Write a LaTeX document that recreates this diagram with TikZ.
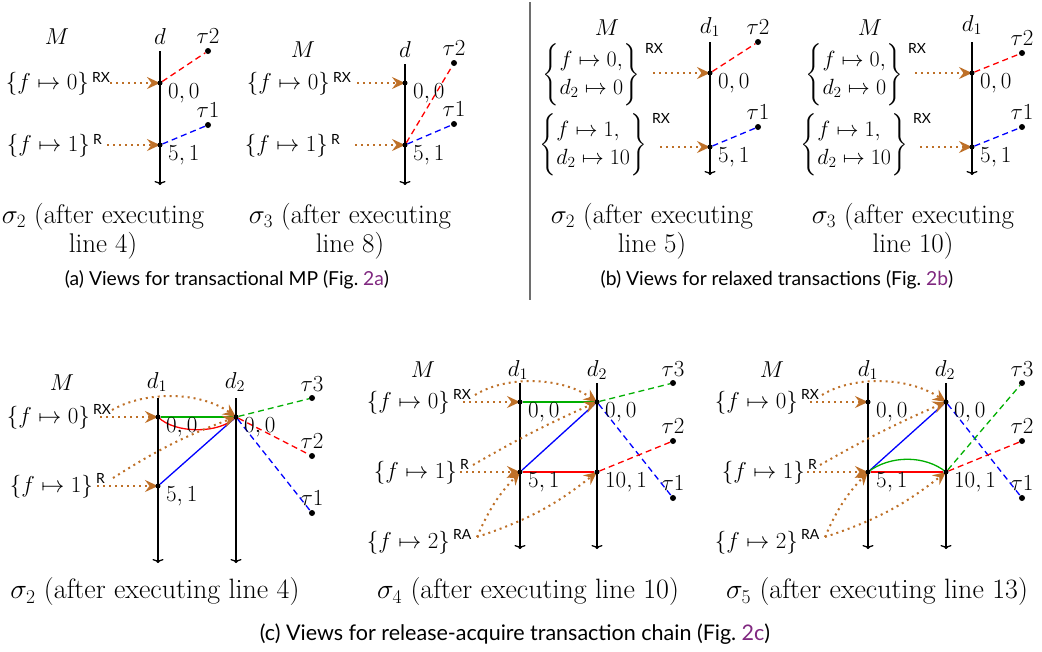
\RequirePackage{fix-cm}
\documentclass[tikz,border=0pt]{standalone}
\usepackage{amsmath}
\usepackage{fontspec}
\setsansfont{Lato}
\usetikzlibrary{arrows.meta,calc}
\pgfdeclarelayer{background}
\pgfsetlayers{background,main}
\definecolor{mybrown}{RGB}{190,112,40}
\definecolor{mygreen}{RGB}{0,175,0}
\definecolor{linkpurple}{RGB}{128,40,128}
\definecolor{divgray}{RGB}{110,110,110}
\newcommand{\myMath}{\fontsize{23}{28}\selectfont}
\newcommand{\myBrace}{\fontsize{22}{28}\selectfont}
\newcommand{\mySup}{\fontsize{14}{16}\selectfont}
\newcommand{\myCap}{\fontsize{27}{29}\selectfont}
\newcommand{\myCapB}{\fontsize{28}{30}\selectfont}
\newcommand{\mySans}{\fontsize{19.3}{22}\selectfont}
\newcommand{\mySansB}{\fontsize{21.5}{24}\selectfont}
\tikzset{
  tline/.style={line width=1.3pt,-{To[length=4pt,width=11pt]}},
  vdot/.style={circle,fill=black,inner sep=0pt,minimum size=5pt},
  tdot/.style={circle,fill=black,inner sep=0pt,minimum size=6pt},
  mlab/.style={inner sep=0pt,font=\myMath},
  blab/.style={inner sep=0pt,font=\myBrace},
  suplab/.style={inner sep=0pt,font=\mySup\sffamily,anchor=north west},
  vallab/.style={inner sep=0pt,font=\myMath,anchor=north west},
  tlab/.style={inner sep=0pt,font=\myMath,anchor=south},
  brn/.style={draw=mybrown,line width=2pt,dash pattern=on 2pt off 4pt,-{Stealth[length=13pt,width=12pt,inset=4.5pt]}},
  dsh/.style={line width=1.3pt,dash pattern=on 6pt off 4pt},
  sol/.style={line width=1.3pt},
  capser/.style={inner sep=0pt,font=\myCap,align=center},
  capserb/.style={inner sep=0pt,font=\myCapB},
  capsans/.style={inner sep=0pt,font=\sffamily\mySans},
  capsansb/.style={inner sep=0pt,font=\sffamily\mySansB},
}
\begin{document}
\begin{tikzpicture}[x=1pt,y=-1pt]
\path[use as bounding box] (0,0) rectangle (1042,651);

% ================= (a) left
\node[mlab] (a1M) at (57,37) {$M$};
\node[mlab] (a1D) at (160,37) {$d$};
\coordinate (a1top) at (160,51);
\coordinate (a1bot) at (160,185);
\node[vdot] (a1p0) at (160,83) {};
\node[vdot] (a1p1) at (160,145) {};
\node[tdot] (a1t2) at (208,51) {};
\node[tdot] (a1t1) at (208,125) {};
\node[tlab] (a1t2l) at ($(a1t2)+(0,-7)$) {$\tau2$};
\node[tlab] (a1t1l) at ($(a1t1)+(0,-7)$) {$\tau1$};
\node[mlab,anchor=east] (a1m0) at (89,84) {$\{f\mapsto 0\}$};
\node[suplab] (a1m0s) at ($(a1m0.north east)+(3,0)$) {RX};
\node[mlab,anchor=east] (a1m1) at (90,146) {$\{f\mapsto 1\}$};
\node[suplab] (a1m1s) at ($(a1m1.north east)+(3,0)$) {R};
\node[vallab] (a1v0) at ($(a1p0)+(8,0)$) {$0,0$};
\node[vallab] (a1v1) at ($(a1p1)+(8,0)$) {$5,1$};
\coordinate (a1s0) at (110,83);
\coordinate (a1s1) at (107,145);
\begin{pgfonlayer}{background}
\draw[tline] (a1top) -- (a1bot);
\draw[dsh,red] (a1p0) -- (a1t2);
\draw[dsh,blue] (a1p1) -- (a1t1);
\draw[brn] (a1s0) -- (a1p0.center);
\draw[brn] (a1s1) -- (a1p1.center);
\end{pgfonlayer}
\node[capser] (a1cap) at (103,231) {$\sigma_2$ (after executing\\line 4)};

% ================= (a) right
\node[mlab] (a2M) at (303,50) {$M$};
\node[mlab] (a2D) at (405,50) {$d$};
\coordinate (a2top) at (405,64);
\coordinate (a2bot) at (405,185);
\node[vdot] (a2p0) at (405,83) {};
\node[vdot] (a2p1) at (405,145) {};
\node[tdot] (a2t2) at (454,63) {};
\node[tdot] (a2t1) at (454,124) {};
\node[tlab] (a2t2l) at ($(a2t2)+(0,-7)$) {$\tau2$};
\node[tlab] (a2t1l) at ($(a2t1)+(0,-7)$) {$\tau1$};
\node[mlab,anchor=east] (a2m0) at (330,84) {$\{f\mapsto 0\}$};
\node[suplab] (a2m0s) at ($(a2m0.north east)+(3,0)$) {RX};
\node[mlab,anchor=east] (a2m1) at (328,146) {$\{f\mapsto 1\}$};
\node[suplab] (a2m1s) at ($(a2m1.north east)+(3,0)$) {R};
\node[vallab] (a2v0) at ($(a2p0)+(8,0)$) {$0,0$};
\node[vallab] (a2v1) at ($(a2p1)+(8,0)$) {$5,1$};
\coordinate (a2s0) at (357,83);
\coordinate (a2s1) at (355,145);
\begin{pgfonlayer}{background}
\draw[tline] (a2top) -- (a2bot);
\draw[dsh,red] (a2p1) -- (a2t2);
\draw[dsh,blue] (a2p1) -- (a2t1);
\draw[brn] (a2s0) -- (a2p0.center);
\draw[brn] (a2s1) -- (a2p1.center);
\end{pgfonlayer}
\node[capser] (a2cap) at (350,231) {$\sigma_3$ (after executing\\line 8)};
\node[capsans] (acap) at (227,280) {(a) Views for transactional MP (Fig.~\textcolor{linkpurple}{2a})};

% ================= divider
\coordinate (divtop) at (530,2);
\coordinate (divbot) at (530,300);
\draw[divgray,line width=1.2pt] (divtop) -- (divbot);

% ================= (b) left
\node[mlab] (b1M) at (607,28) {$M$};
\node[mlab] (b1D) at (710,27) {$d_1$};
\coordinate (b1top) at (710,42);
\coordinate (b1bot) at (710,175);
\node[vdot] (b1p0) at (710,73) {};
\node[vdot] (b1p1) at (710,147) {};
\node[tdot] (b1t2) at (758,42) {};
\node[tdot] (b1t1) at (758,127) {};
\node[tlab] (b1t2l) at ($(b1t2)+(0,-7)$) {$\tau2$};
\node[tlab] (b1t1l) at ($(b1t1)+(0,-7)$) {$\tau1$};
\node[blab,anchor=east] (b1m0) at (640,75) {$\left\{\begin{array}{@{}l@{}}f\mapsto 0,\\ d_2\mapsto 0\end{array}\right\}$};
\node[suplab] (b1m0s) at ($(b1m0.north east)+(5,0)$) {RX};
\node[blab,anchor=east] (b1m1) at (647,145) {$\left\{\begin{array}{@{}l@{}}f\mapsto 1,\\ d_2\mapsto 10\end{array}\right\}$};
\node[suplab] (b1m1s) at ($(b1m1.north east)+(5,0)$) {RX};
\node[vallab] (b1v0) at ($(b1p0)+(8,0)$) {$0,0$};
\node[vallab] (b1v1) at ($(b1p1)+(8,0)$) {$5,1$};
\coordinate (b1s0) at (653,73);
\coordinate (b1s1) at (660,147);
\begin{pgfonlayer}{background}
\draw[tline] (b1top) -- (b1bot);
\draw[dsh,red] (b1p0) -- (b1t2);
\draw[dsh,blue] (b1p1) -- (b1t1);
\draw[brn] (b1s0) -- (b1p0.center);
\draw[brn] (b1s1) -- (b1p1.center);
\end{pgfonlayer}
\node[capser] (b1cap) at (652,231) {$\sigma_2$ (after executing\\line 5)};

% ================= (b) right
\node[mlab] (b2M) at (870,28) {$M$};
\node[mlab] (b2D) at (972,25) {$d_1$};
\coordinate (b2top) at (972,42);
\coordinate (b2bot) at (972,175);
\node[vdot] (b2p0) at (972,73) {};
\node[vdot] (b2p1) at (972,147) {};
\node[tdot] (b2t2) at (1022,53) {};
\node[tdot] (b2t1) at (1022,127) {};
\node[tlab] (b2t2l) at ($(b2t2)+(0,-7)$) {$\tau2$};
\node[tlab] (b2t1l) at ($(b2t1)+(0,-7)$) {$\tau1$};
\node[blab,anchor=east] (b2m0) at (903,75) {$\left\{\begin{array}{@{}l@{}}f\mapsto 0,\\ d_2\mapsto 0\end{array}\right\}$};
\node[suplab] (b2m0s) at ($(b2m0.north east)+(5,0)$) {RX};
\node[blab,anchor=east] (b2m1) at (908,145) {$\left\{\begin{array}{@{}l@{}}f\mapsto 1,\\ d_2\mapsto 10\end{array}\right\}$};
\node[suplab] (b2m1s) at ($(b2m1.north east)+(5,0)$) {RX};
\node[vallab] (b2v0) at ($(b2p0)+(8,0)$) {$0,0$};
\node[vallab] (b2v1) at ($(b2p1)+(8,0)$) {$5,1$};
\coordinate (b2s0) at (915,73);
\coordinate (b2s1) at (920,147);
\begin{pgfonlayer}{background}
\draw[tline] (b2top) -- (b2bot);
\draw[dsh,red] (b2p0) -- (b2t2);
\draw[dsh,blue] (b2p1) -- (b2t1);
\draw[brn] (b2s0) -- (b2p0.center);
\draw[brn] (b2s1) -- (b2p1.center);
\end{pgfonlayer}
\node[capser] (b2cap) at (913,231) {$\sigma_3$ (after executing\\line 10)};
\node[capsans] (bcap) at (777,280) {(b) Views for relaxed transactions (Fig.~\textcolor{linkpurple}{2b})};

% ================= (c) left
\node[mlab] (c1M) at (62,383) {$M$};
\node[mlab] (c1D1) at (157,382) {$d_1$};
\node[mlab] (c1D2) at (235,382) {$d_2$};
\coordinate (c1top1) at (158,398);
\coordinate (c1bot1) at (158,563);
\coordinate (c1top2) at (236,398);
\coordinate (c1bot2) at (236,563);
\node[vdot] (c1p0) at (158,417) {};
\node[vdot] (c1q0) at (236,417) {};
\node[vdot] (c1p1) at (158,486) {};
\node[tdot] (c1t3) at (312,398) {};
\node[tdot] (c1t2) at (312,456) {};
\node[tdot] (c1t1) at (312,513) {};
\node[tlab] (c1t3l) at ($(c1t3)+(0,-6)$) {$\tau3$};
\node[tlab] (c1t2l) at ($(c1t2)+(0,-7)$) {$\tau2$};
\node[tlab] (c1t1l) at ($(c1t1)+(0,-7)$) {$\tau1$};
\node[mlab,anchor=east] (c1m0) at (90,418) {$\{f\mapsto 0\}$};
\node[suplab] (c1m0s) at ($(c1m0.north east)+(3,-2)$) {RX};
\node[mlab,anchor=east] (c1m1) at (93,487) {$\{f\mapsto 1\}$};
\node[suplab] (c1m1s) at ($(c1m1.north east)+(3,-2)$) {R};
\node[vallab] (c1v0) at ($(c1p0)+(8,0)$) {$0,0$};
\node[vallab] (c1v1) at ($(c1q0)+(8,0)$) {$0,0$};
\node[vallab] (c1v2) at ($(c1p1)+(8,0)$) {$5,1$};
\coordinate (c1s0) at (100,417);
\coordinate (c1s1) at (112,410);
\coordinate (c1s2) at (113,478);
\coordinate (c1s3) at (97,486);
\begin{pgfonlayer}{background}
\draw[tline] (c1top1) -- (c1bot1);
\draw[tline] (c1top2) -- (c1bot2);
\draw[sol,mygreen] (c1p0) -- (c1q0);
\draw[sol,red] (c1p0.center) .. controls (175,434) and (220,434) .. (c1q0.center);
\draw[sol,blue] (c1p1) -- (c1q0);
\draw[dsh,mygreen] (c1q0) -- (c1t3);
\draw[dsh,red] (c1q0) -- (c1t2);
\draw[dsh,blue] (c1q0) -- (c1t1);
\draw[brn] (c1s0) -- (c1p0.center);
\draw[brn] (c1s1) .. controls (145,391) and (200,391) .. (c1q0.center);
\draw[brn] (c1s2) to[bend left=6] (c1q0.center);
\draw[brn] (c1s3) -- (c1p1.center);
\end{pgfonlayer}
\node[capserb] (c1cap) at (155,592) {$\sigma_2$ (after executing line 4)};

% ================= (c) middle
\node[mlab] (c2M) at (423,370) {$M$};
\node[mlab] (c2D1) at (518,370) {$d_1$};
\node[mlab] (c2D2) at (597,370) {$d_2$};
\coordinate (c2top1) at (520,383);
\coordinate (c2bot1) at (520,549);
\coordinate (c2top2) at (597,383);
\coordinate (c2bot2) at (597,549);
\node[vdot] (c2p0) at (520,402) {};
\node[vdot] (c2q0) at (597,402) {};
\node[vdot] (c2p1) at (520,472) {};
\node[vdot] (c2q1) at (597,472) {};
\node[tdot] (c2t3) at (673,383) {};
\node[tdot] (c2t2) at (673,441) {};
\node[tdot] (c2t1) at (673,498) {};
\node[tlab] (c2t3l) at ($(c2t3)+(0,-6)$) {$\tau3$};
\node[tlab] (c2t2l) at ($(c2t2)+(0,-7)$) {$\tau2$};
\node[tlab] (c2t1l) at ($(c2t1)+(0,-7)$) {$\tau1$};
\node[mlab,anchor=east] (c2m0) at (450,403) {$\{f\mapsto 0\}$};
\node[suplab] (c2m0s) at ($(c2m0.north east)+(3,-2)$) {RX};
\node[mlab,anchor=east] (c2m1) at (457,473) {$\{f\mapsto 1\}$};
\node[suplab] (c2m1s) at ($(c2m1.north east)+(3,-2)$) {R};
\node[mlab,anchor=east] (c2m2) at (450,543) {$\{f\mapsto 2\}$};
\node[suplab] (c2m2s) at ($(c2m2.north east)+(3,-2)$) {RA};
\node[vallab] (c2v0) at ($(c2p0)+(8,0)$) {$0,0$};
\node[vallab] (c2v1) at ($(c2q0)+(8,0)$) {$0,0$};
\node[vallab] (c2v2) at ($(c2p1)+(8,0)$) {$5,1$};
\node[vallab] (c2v3) at ($(c2q1)+(8,0)$) {$10,1$};
\coordinate (c2s0) at (463,402);
\coordinate (c2s1) at (475,395);
\coordinate (c2s2) at (473,465);
\coordinate (c2s3) at (460,472);
\coordinate (c2s4) at (477,537);
\begin{pgfonlayer}{background}
\draw[tline] (c2top1) -- (c2bot1);
\draw[tline] (c2top2) -- (c2bot2);
\draw[sol,mygreen] (c2p0) -- (c2q0);
\draw[sol,blue] (c2p1) -- (c2q0);
\draw[sol,red] (c2p1) -- (c2q1);
\draw[dsh,mygreen] (c2q0) -- (c2t3);
\draw[dsh,blue] (c2q0) -- (c2t1);
\draw[dsh,red] (c2q1) -- (c2t2);
\draw[brn] (c2s0) -- (c2p0.center);
\draw[brn] (c2s1) .. controls (505,376) and (560,376) .. (c2q0.center);
\draw[brn] (c2s2) to[bend left=3] (c2q0.center);
\draw[brn] (c2s3) -- (c2p1.center);
\draw[brn] (c2s4) to[bend left=10] (c2p1.center);
\draw[brn] (c2s4) to[bend right=10] (c2q1.center);
\end{pgfonlayer}
\node[capserb] (c2cap) at (528,592) {$\sigma_4$ (after executing line 10)};

% ================= (c) right
\node[mlab] (c3M) at (772,370) {$M$};
\node[mlab] (c3D1) at (868,370) {$d_1$};
\node[mlab] (c3D2) at (945,370) {$d_2$};
\coordinate (c3top1) at (868,383);
\coordinate (c3bot1) at (868,549);
\coordinate (c3top2) at (946,383);
\coordinate (c3bot2) at (946,549);
\node[vdot] (c3p0) at (868,402) {};
\node[vdot] (c3q0) at (946,402) {};
\node[vdot] (c3p1) at (868,472) {};
\node[vdot] (c3q1) at (946,472) {};
\node[tdot] (c3t3) at (1022,383) {};
\node[tdot] (c3t2) at (1022,441) {};
\node[tdot] (c3t1) at (1022,498) {};
\node[tlab] (c3t3l) at ($(c3t3)+(0,-6)$) {$\tau3$};
\node[tlab] (c3t2l) at ($(c3t2)+(0,-7)$) {$\tau2$};
\node[tlab] (c3t1l) at ($(c3t1)+(0,-7)$) {$\tau1$};
\node[mlab,anchor=east] (c3m0) at (798,403) {$\{f\mapsto 0\}$};
\node[suplab] (c3m0s) at ($(c3m0.north east)+(3,-2)$) {RX};
\node[mlab,anchor=east] (c3m1) at (805,473) {$\{f\mapsto 1\}$};
\node[suplab] (c3m1s) at ($(c3m1.north east)+(3,-2)$) {R};
\node[mlab,anchor=east] (c3m2) at (798,543) {$\{f\mapsto 2\}$};
\node[suplab] (c3m2s) at ($(c3m2.north east)+(3,-2)$) {RA};
\node[vallab] (c3v0) at ($(c3p0)+(8,0)$) {$0,0$};
\node[vallab] (c3v1) at ($(c3q0)+(8,0)$) {$0,0$};
\node[vallab] (c3v2) at ($(c3p1)+(8,0)$) {$5,1$};
\node[vallab] (c3v3) at ($(c3q1)+(8,0)$) {$10,1$};
\coordinate (c3s0) at (810,402);
\coordinate (c3s1) at (822,395);
\coordinate (c3s2) at (820,465);
\coordinate (c3s3) at (807,472);
\coordinate (c3s4) at (825,537);
\begin{pgfonlayer}{background}
\draw[tline] (c3top1) -- (c3bot1);
\draw[tline] (c3top2) -- (c3bot2);
\draw[sol,blue] (c3p1) -- (c3q0);
\draw[sol,mygreen] (c3p1.center) .. controls (890,455) and (925,455) .. (c3q1.center);
\draw[sol,red] (c3p1) -- (c3q1);
\draw[dsh,blue] (c3q0) -- (c3t1);
\draw[dsh,mygreen] (c3q1) -- (c3t3);
\draw[dsh,red] (c3q1) -- (c3t2);
\draw[brn] (c3s0) -- (c3p0.center);
\draw[brn] (c3s1) .. controls (852,376) and (908,376) .. (c3q0.center);
\draw[brn] (c3s2) to[bend left=3] (c3q0.center);
\draw[brn] (c3s3) -- (c3p1.center);
\draw[brn] (c3s4) to[bend left=10] (c3p1.center);
\draw[brn] (c3s4) to[bend right=10] (c3q1.center);
\end{pgfonlayer}
\node[capserb] (c3cap) at (877,592) {$\sigma_5$ (after executing line 13)};
\node[capsansb] (ccap) at (515,634) {(c) Views for release-acquire transaction chain (Fig.~\textcolor{linkpurple}{2c})};
\end{tikzpicture}
\end{document}
